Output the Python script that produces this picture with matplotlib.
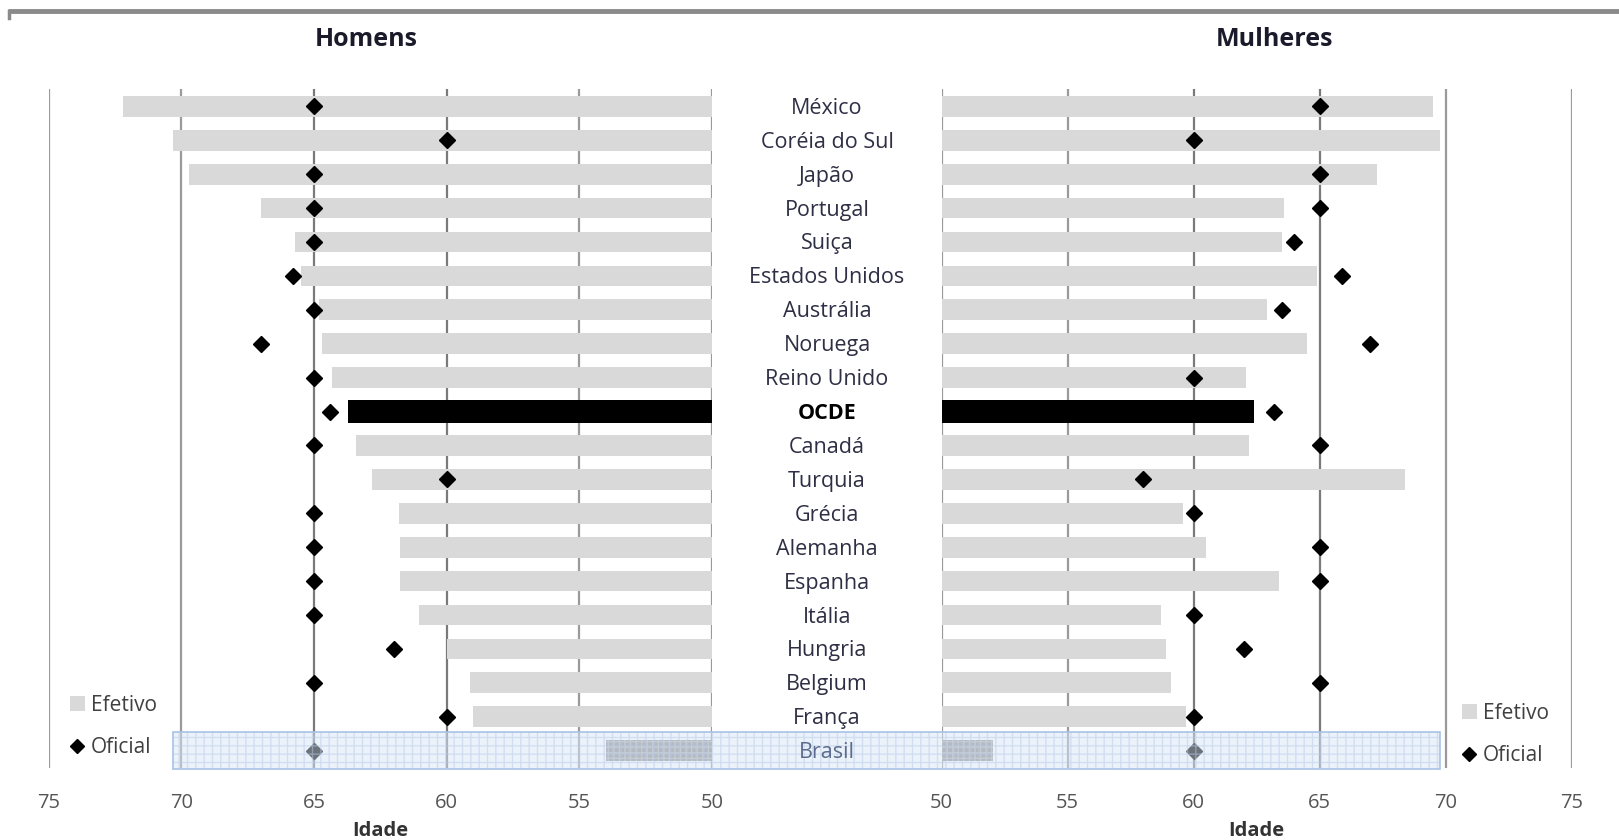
import matplotlib
matplotlib.use("Agg")
import matplotlib.pyplot as plt
import numpy as np
from matplotlib.lines import Line2D
from matplotlib.patches import Rectangle, Patch
from matplotlib.transforms import blended_transform_factory, offset_copy

# ---------------- data ----------------
countries = ["México", "Coréia do Sul", "Japão", "Portugal", "Suiça", "Estados Unidos",
             "Austrália", "Noruega", "Reino Unido", "OCDE", "Canadá", "Turquia",
             "Grécia", "Alemanha", "Espanha", "Itália", "Hungria", "Belgium",
             "França", "Brasil"]
men_efetivo = [72.2, 70.3, 69.7, 67.0, 65.7, 65.5, 64.8, 64.7, 64.3, 63.7, 63.4, 62.8,
               61.8, 61.75, 61.75, 61.05, 60.0, 59.1, 59.0, 54.0]
men_oficial = [65, 60, 65, 65, 65, 65.8, 65, 67, 65, 64.4, 65, 60,
               65, 65, 65, 65, 62, 65, 60, 65]
women_efetivo = [69.5, 69.8, 67.3, 63.6, 63.5, 64.9, 62.9, 64.5, 62.1, 62.4, 62.2, 68.4,
                 59.6, 60.5, 63.4, 58.7, 58.9, 59.1, 59.7, 52.05]
women_oficial = [65, 60, 65, 65, 64.0, 65.9, 63.5, 67, 60, 63.2, 65, 58,
                 60, 65, 65, 60, 62, 65, 60, 60]
ticks = [75, 70, 65, 60, 55, 50]
titles = ["Homens", "Mulheres"]
xlabel = "Idade"
legend_labels = ["Efetivo", "Oficial"]
highlight = "Brasil"
average = "OCDE"

# ---------------- style ----------------
W, H, DPI = 16.19, 8.40, 100
BAR = "#d9d9d9"
GRID = "#9a9a9a"
TXT = "#2e2e44"
FONT = "Open Sans"
plt.rcParams["font.family"] = [FONT, "DejaVu Sans"]

fig = plt.figure(figsize=(W, H), dpi=DPI)
top, bottom = 1 - 89.4 / 840, 1 - 767.6 / 840
axL = fig.add_axes([48.5 / 1619, bottom, (712 - 48.5) / 1619, top - bottom])
axR = fig.add_axes([941.6 / 1619, bottom, (1571.5 - 941.6) / 1619, top - bottom])

y = np.arange(len(countries))
base = 50


def colors_for(names):
    out = []
    for n in names:
        if n == average:
            out.append("black")
        elif n == highlight:
            out.append("#8e8e8e")
        else:
            out.append(BAR)
    return out


cols = colors_for(countries)
heights = [0.66 if n == average else 0.61 for n in countries]

for ax, eff, off, xl in [(axL, men_efetivo, men_oficial, (75, 50)),
                         (axR, women_efetivo, women_oficial, (50, 75))]:
    vals = np.array(eff)
    bars = ax.barh(y, vals - base, left=base, color=cols, height=heights, zorder=2)
    hb = bars[countries.index(highlight)]
    hb.set_hatch("+++")
    hb.set_edgecolor("#b0b0b0")
    hb.set_linewidth(0)
    ax.plot(off, y, linestyle="none", marker="D", ms=8.5, color="black", zorder=3)
    ax.set_xlim(*xl)
    ax.set_ylim(len(countries) - 0.5, -0.5)
    ax.set_xticks(ticks)
    ax.set_xticklabels([str(t) for t in ticks], fontsize=14.5, color="#555555")
    ax.tick_params(axis="x", length=0, pad=18)
    ax.set_yticks([])
    for s in ax.spines.values():
        s.set_visible(False)
    for t in ticks:
        c = "#7a7a7a" if t in (65, 60) else GRID
        ax.axvline(t, color=c, lw=1.6, zorder=1)
    ax.set_xlabel(xlabel, fontsize=14.5, fontweight="bold", color="#333333", labelpad=6)

# titles
fig.text(354.5 / 1568, 1 - 38 / 814, titles[0], ha="center", va="center",
         fontsize=18, fontweight="bold", color="#1a1a2a")
fig.text(1234.5 / 1568, 1 - 38 / 814, titles[1], ha="center", va="center",
         fontsize=18, fontweight="bold", color="#1a1a2a")

# country labels in the middle
trans = offset_copy(blended_transform_factory(fig.transFigure, axR.transData),
                    fig=fig, y=-2, units="dots")
hi = countries.index(highlight)
for i, n in enumerate(countries):
    if n == highlight:
        continue
    bold = n == average
    axR.text(827 / 1619, i, n, transform=trans, ha="center", va="center",
             fontsize=15.5, fontweight="bold" if bold else "normal",
             color="black" if bold else TXT)

# highlight band for Brasil (overlay)
x0 = axL.transData.transform((70.3, hi + 0.55))
x1 = axR.transData.transform((69.8, hi - 0.55))
inv = fig.transFigure.inverted()
p0 = inv.transform(x0)
p1 = inv.transform(x1)
band = Rectangle((p0[0], p0[1]), p1[0] - p0[0], p1[1] - p0[1], transform=fig.transFigure,
                 facecolor="#dbe6f7", alpha=0.5, hatch="++", edgecolor="#b7cbea",
                 linewidth=0, zorder=5)
fig.add_artist(band)
fig.add_artist(Rectangle((p0[0], p0[1]), p1[0] - p0[0], p1[1] - p0[1],
                         transform=fig.transFigure, facecolor="none",
                         edgecolor="#a9c2e8", linewidth=1.2, zorder=6))
# Brasil label drawn above the band
yb = (axR.transData.transform((60, hi))[1] - 2) / (H * DPI)
fig.text(827 / 1619, yb, highlight, ha="center", va="center", fontsize=15.5,
         color="#5d6c8c", zorder=8)

# legends
handles = [Patch(facecolor=BAR, edgecolor="none"),
           Line2D([], [], marker="D", linestyle="none", color="black", ms=7.5)]
for (lx, ly) in [(70 / 1619, 1 - 695 / 840), (1462 / 1619, 1 - 703 / 840)]:
    leg = fig.legend(handles, legend_labels, loc="upper left", bbox_to_anchor=(lx, ly),
                     frameon=False, fontsize=15, handlelength=0.7, handleheight=0.7,
                     handletextpad=0.3, labelspacing=1.0, borderaxespad=0, borderpad=0)
    for t in leg.get_texts():
        t.set_color("#404040")

# top border line
fig.add_artist(Line2D([8 / 1619, 1.0], [1 - 11 / 840, 1 - 11 / 840], transform=fig.transFigure,
                      color="#8a8a8a", lw=3.5, solid_capstyle="butt"))
fig.add_artist(Line2D([9 / 1619, 9 / 1619], [1 - 11 / 840, 1 - 18 / 840], transform=fig.transFigure,
                      color="#8a8a8a", lw=2.5))

fig.savefig("out.png", dpi=DPI)
